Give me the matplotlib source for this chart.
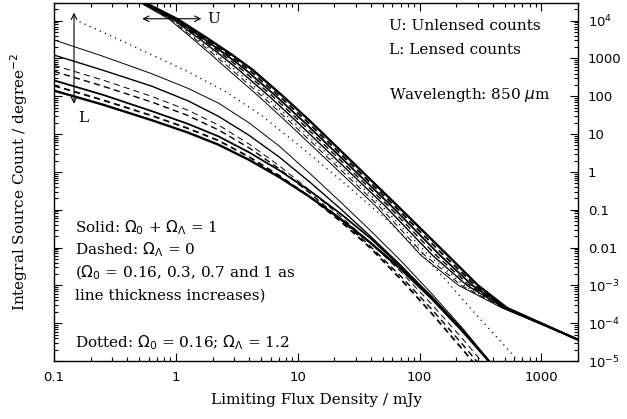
import numpy as np
import matplotlib
matplotlib.use("Agg")
import matplotlib.pyplot as plt
from matplotlib.ticker import FixedLocator, LogLocator, NullFormatter

plt.rcParams["lines.scale_dashes"] = False

# --------------------------------------------------------------------------- #
# data, stored as log10 values
# upper (unlensed) bundle: shared log10 N levels, one log10 S list per curve
u_logn = [4.6, 4.47, 4.04, 3.5, 3.1, 2.7, 2.0, 1.35, -0.9, -2.2, -3.0, -3.6, -4.45]
u_solid_016 = [-0.380, -0.290, -0.055, 0.145, 0.290, 0.430, 0.680, 0.900, 1.640, 2.010, 2.320, 2.680, 3.31]
u_dash_016 = [-0.374, -0.284, -0.045, 0.164, 0.315, 0.459, 0.709, 0.929, 1.666, 2.042, 2.343, 2.686, 3.31]
u_dotted = [-0.369, -0.279, -0.035, 0.182, 0.338, 0.487, 0.737, 0.957, 1.691, 2.073, 2.366, 2.691, 3.31]
u_solid_03 = [-0.363, -0.273, -0.025, 0.201, 0.363, 0.516, 0.766, 0.986, 1.717, 2.105, 2.389, 2.697, 3.31]
u_dash_03 = [-0.357, -0.267, -0.015, 0.219, 0.387, 0.544, 0.794, 1.014, 1.743, 2.135, 2.411, 2.703, 3.31]
u_solid_07 = [-0.351, -0.261, -0.005, 0.238, 0.412, 0.573, 0.823, 1.043, 1.769, 2.167, 2.434, 2.709, 3.31]
u_dash_07 = [-0.346, -0.256, 0.005, 0.256, 0.435, 0.601, 0.851, 1.071, 1.794, 2.198, 2.457, 2.714, 3.31]
u_solid_1 = [-0.340, -0.250, 0.015, 0.275, 0.460, 0.630, 0.880, 1.100, 1.820, 2.230, 2.480, 2.720, 3.31]

# lower (lensed) bundle: shared log10 S positions, one log10 N list per curve
l_logs = [-1.0, -0.6, -0.2, 0.1, 0.35, 0.6, 0.85, 1.1, 1.35, 1.6, 1.85, 2.1, 2.35, 2.65]
l_solid_016 = [3.49, 3.06, 2.60, 2.21, 1.82, 1.30, 0.68, -0.04, -0.79, -1.56, -2.36, -3.22, -4.12, -5.30]
l_solid_03 = [3.09, 2.69, 2.27, 1.88, 1.47, 0.97, 0.39, -0.27, -0.97, -1.71, -2.48, -3.31, -4.17, -5.30]
l_solid_07 = [2.42, 2.04, 1.61, 1.27, 0.94, 0.52, 0.04, -0.50, -1.10, -1.76, -2.52, -3.30, -4.17, -5.30]
l_solid_1 = [2.15, 1.78, 1.37, 1.04, 0.72, 0.32, -0.14, -0.66, -1.24, -1.88, -2.58, -3.35, -4.20, -5.30]
l_dash_016 = [2.82, 2.43, 2.00, 1.63, 1.24, 0.74, 0.16, -0.49, -1.17, -1.88, -2.65, -3.50, -4.40, -5.55]
l_dash_03 = [2.66, 2.27, 1.85, 1.49, 1.11, 0.64, 0.08, -0.56, -1.25, -1.98, -2.77, -3.63, -4.55, -5.70]
l_dash_07 = [2.28, 1.90, 1.49, 1.15, 0.83, 0.40, -0.10, -0.66, -1.30, -2.02, -2.85, -3.74, -4.68, -5.85]

# dotted lensed curve, Omega_0 = 0.16, Omega_L = 1.2
d_logs = [-0.79, -0.5, -0.2, 0.1, 0.4, 0.7, 1.0, 1.34, 1.75, 2.0, 2.2, 2.43, 2.7, 2.85]
d_logn = [3.97, 3.55, 3.10, 2.65, 2.14, 1.50, 0.73, -0.18, -1.32, -2.10, -2.80, -3.65, -4.60, -5.15]

x_ticks = [0.1, 1, 10, 100, 1000]
x_labels = ["0.1", "1", "10", "100", "1000"]
y_ticks = [1e4, 1e3, 1e2, 10, 1, 0.1, 0.01, 1e-3, 1e-4, 1e-5]
y_labels = [r"$10^4$", "1000", "100", "10", "1", "0.1", "0.01",
            r"$10^{-3}$", r"$10^{-4}$", r"$10^{-5}$"]

widths = {"016": 0.7, "03": 1.0, "07": 1.3, "1": 1.7}
dash = (0, (4.5, 3))
dots = (0, (0.8, 3.2))

# --------------------------------------------------------------------------- #
fig = plt.figure(figsize=(6.27, 4.19), dpi=100)
ax = fig.add_axes([0.0861, 0.1384, 0.8358, 0.8554])
ax.set_xscale("log")
ax.set_yscale("log")


def draw(logs, logn, lw, ls="-"):
    ax.plot(10 ** np.array(logs), 10 ** np.array(logn), color="black",
            lw=lw, ls=ls, solid_capstyle="butt")


# upper bundle
draw(u_solid_016, u_logn, widths["016"])
draw(u_dash_016, u_logn, widths["016"], dash)
draw(u_dotted, u_logn, 1.0, dots)
draw(u_solid_03, u_logn, widths["03"])
draw(u_dash_03, u_logn, widths["03"], dash)
draw(u_solid_07, u_logn, widths["07"])
draw(u_dash_07, u_logn, widths["07"], dash)
draw(u_solid_1, u_logn, widths["1"])

# lower bundle
draw(l_logs, l_solid_016, widths["016"])
draw(l_logs, l_solid_03, widths["03"])
draw(l_logs, l_solid_07, widths["07"])
draw(l_logs, l_solid_1, widths["1"])
draw(l_logs, l_dash_016, widths["016"], dash)
draw(l_logs, l_dash_03, widths["03"], dash)
draw(l_logs, l_dash_07, widths["07"], dash)

# dotted lensed curve
draw(d_logs, d_logn, 1.0, dots)

ax.set_xlim(0.1, 2000)
ax.set_ylim(1e-5, 3e4)

# arrows and their letters
ax.annotate("", xy=(0.146, 10 ** 4.21), xytext=(0.146, 10 ** 1.80),
            arrowprops=dict(arrowstyle="<->", lw=0.8, color="black",
                            shrinkA=0, shrinkB=0))
ax.annotate("", xy=(0.53, 10 ** 4.05), xytext=(1.62, 10 ** 4.05),
            arrowprops=dict(arrowstyle="<->", lw=0.8, color="black",
                            shrinkA=0, shrinkB=0))
tfont = dict(family="DejaVu Serif", size=11)
ax.text(1.80, 10 ** 4.05, "U", va="center", ha="left", **tfont)
ax.text(0.174, 10 ** 1.43, "L", va="center", ha="center", **tfont)

# legend-ish text
ax.text(0.64, 0.935, "U: Unlensed counts", transform=ax.transAxes, va="center", **tfont)
ax.text(0.64, 0.868, "L: Lensed counts", transform=ax.transAxes, va="center", **tfont)
ax.text(0.64, 0.741, r"Wavelength: 850 $\mu$m", transform=ax.transAxes, va="center", **tfont)
ax.text(0.040, 0.372, r"Solid: $\Omega_0$ + $\Omega_\Lambda$ = 1", transform=ax.transAxes, va="center", **tfont)
ax.text(0.040, 0.310, r"Dashed: $\Omega_\Lambda$ = 0", transform=ax.transAxes, va="center", **tfont)
ax.text(0.040, 0.245, r"($\Omega_0$ = 0.16, 0.3, 0.7 and 1 as", transform=ax.transAxes, va="center", **tfont)
ax.text(0.040, 0.183, "line thickness increases)", transform=ax.transAxes, va="center", **tfont)
ax.text(0.040, 0.052, r"Dotted: $\Omega_0$ = 0.16; $\Omega_\Lambda$ = 1.2", transform=ax.transAxes, va="center", **tfont)

# ticks: inside on all four sides, labels on bottom and right only
ax.xaxis.set_major_locator(FixedLocator(x_ticks))
ax.set_xticklabels(x_labels)
ax.xaxis.set_minor_locator(LogLocator(base=10, subs=np.arange(2, 10)))
ax.xaxis.set_minor_formatter(NullFormatter())
ax.yaxis.set_major_locator(FixedLocator(y_ticks))
ax.set_yticklabels(y_labels)
ax.yaxis.set_minor_locator(LogLocator(base=10, subs=np.arange(2, 10), numticks=30))
ax.yaxis.set_minor_formatter(NullFormatter())
ax.tick_params(which="both", direction="in", top=True, right=True,
               labelleft=False, labelright=True, width=0.8)
ax.tick_params(which="major", length=6, pad=7, labelsize=9.5)
ax.tick_params(which="minor", length=3)
for lab in ax.get_xticklabels() + ax.get_yticklabels():
    lab.set_family("DejaVu Sans")
for sp in ax.spines.values():
    sp.set_linewidth(1.0)

ax.set_xlabel("Limiting Flux Density / mJy", labelpad=7, **tfont)
fig.text(0.03, 0.566, r"Integral Source Count / degree$^{-2}$", rotation=90,
         ha="center", va="center", **tfont)

fig.savefig("out.png", dpi=100)
